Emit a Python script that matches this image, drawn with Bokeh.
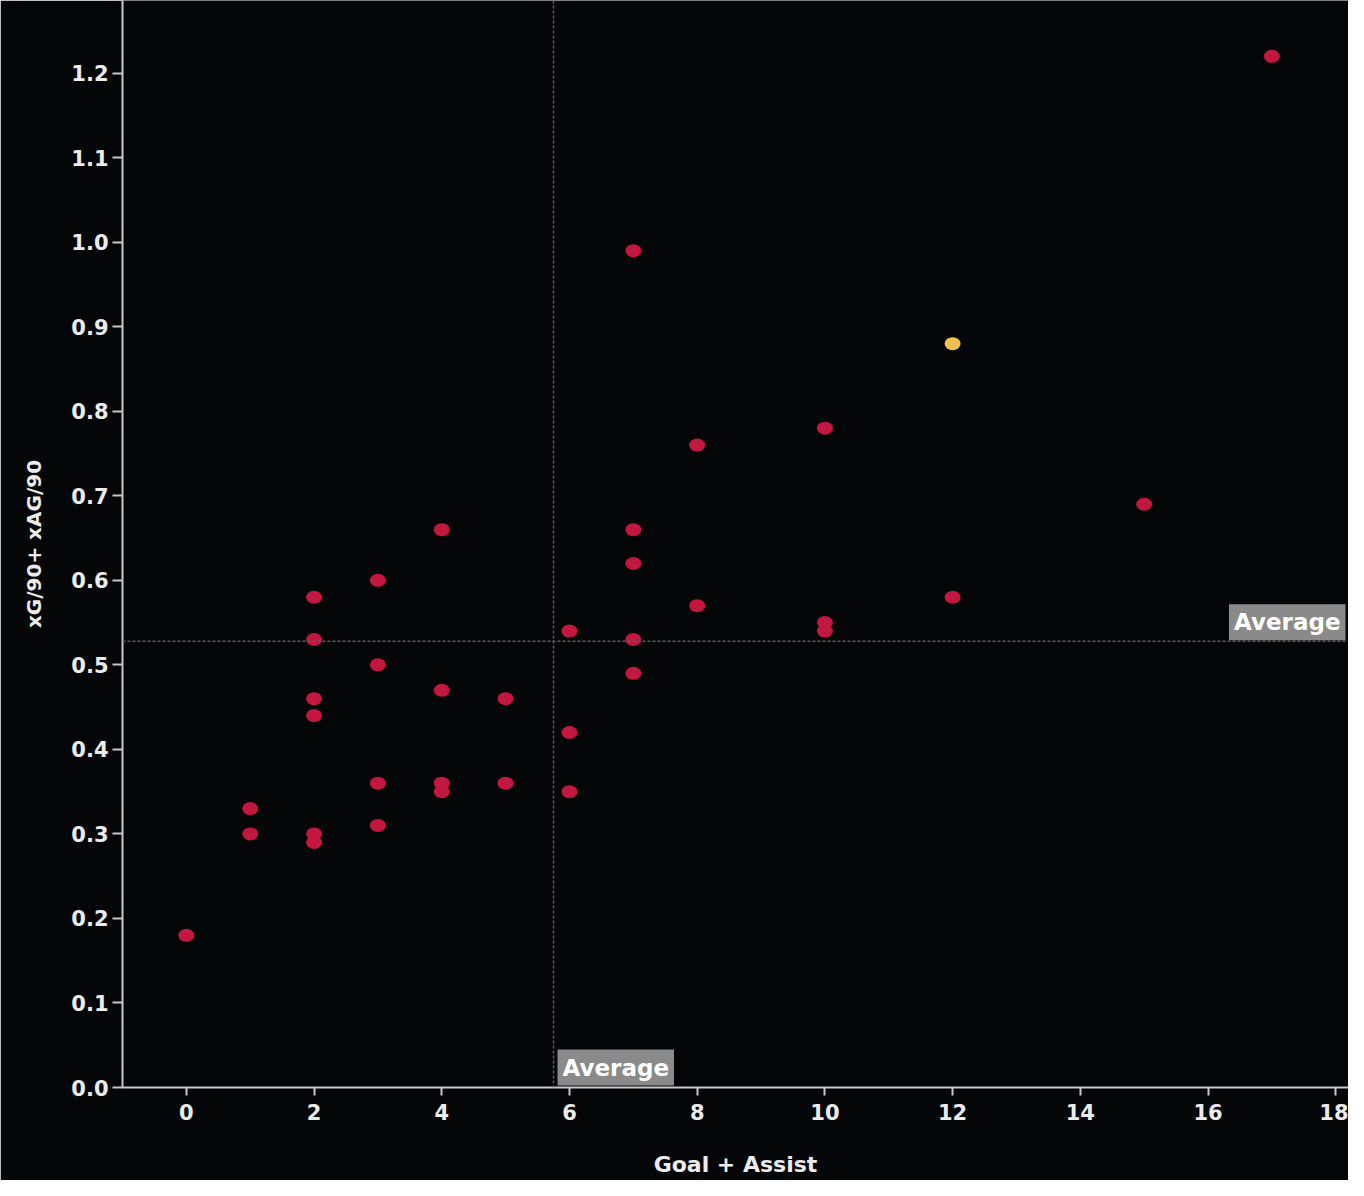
from bokeh.plotting import figure
from bokeh.models import Range1d, FixedTicker, NumeralTickFormatter, Span, Label, ColumnDataSource
from bokeh.embed import file_html
from bokeh.resources import INLINE

# ---- data ----
goal_assist = [0, 1, 1, 2, 2, 2, 2, 2, 2, 3, 3, 3, 3, 4, 4, 4, 4, 5, 5,
               6, 6, 6, 7, 7, 7, 7, 7, 8, 8, 10, 10, 10, 12, 15, 17]
xg_xag_90 = [0.18, 0.33, 0.30, 0.58, 0.53, 0.46, 0.44, 0.30, 0.29,
             0.60, 0.50, 0.36, 0.31, 0.66, 0.47, 0.36, 0.35, 0.46, 0.36,
             0.54, 0.42, 0.35, 0.99, 0.66, 0.62, 0.53, 0.49, 0.76, 0.57,
             0.78, 0.55, 0.54, 0.58, 0.69, 1.22]
highlight_ga = [12]
highlight_xg = [0.88]

x_ticks = [0, 2, 4, 6, 8, 10, 12, 14, 16, 18]
y_ticks = [0.0, 0.1, 0.2, 0.3, 0.4, 0.5, 0.6, 0.7, 0.8, 0.9, 1.0, 1.1, 1.2]

all_x = goal_assist + highlight_ga
all_y = xg_xag_90 + highlight_xg
avg_x = sum(all_x) / len(all_x)
avg_y = sum(all_y) / len(all_y)

BG = "#050608"
AXIS = "#c8c8c8"
TXT = "#ececec"
FONT = "DejaVu Sans"
X_END = 18.2

p = figure(width=1348, height=1180, output_backend="svg", toolbar_location=None,
           x_range=Range1d(-1, X_END), y_range=Range1d(0, 1.286),
           min_border_left=122, min_border_right=0, min_border_top=0, min_border_bottom=93,
           background_fill_color=BG, border_fill_color=BG, outline_line_color=None)
p.grid.visible = False

for ax in (p.xaxis[0], p.yaxis[0]):
    ax.axis_line_color = AXIS
    ax.axis_line_width = 2
    ax.major_tick_line_color = AXIS
    ax.major_tick_line_width = 2
    ax.major_tick_in = 0
    ax.minor_tick_line_color = None
    ax.major_label_text_color = TXT
    ax.major_label_text_font = FONT
    ax.major_label_text_font_style = "bold"
    ax.axis_label_text_color = TXT
    ax.axis_label_text_font = FONT
    ax.axis_label_text_font_style = "bold"

p.xaxis.ticker = FixedTicker(ticks=x_ticks)
p.yaxis.ticker = FixedTicker(ticks=y_ticks)
p.yaxis.formatter = NumeralTickFormatter(format="0.0")
p.xaxis.major_tick_out = 8
p.yaxis.major_tick_out = 10
p.xaxis.major_label_standoff = 8
p.yaxis.major_label_standoff = 4
p.xaxis.major_label_text_font_size = "21px"
p.yaxis.major_label_text_font_size = "21px"
p.xaxis.axis_label = "Goal + Assist"
p.yaxis.axis_label = "xG/90+ xAG/90"
p.xaxis.axis_label_text_font_size = "22px"
p.yaxis.axis_label_text_font_size = "20px"
p.xaxis.axis_label_standoff = 29
p.yaxis.axis_label_standoff = 22

# average lines
p.add_layout(Span(location=avg_x, dimension="height", line_color="#5c5c5c",
                  line_dash="3 2", line_width=1.5))
p.add_layout(Span(location=avg_y, dimension="width", line_color="#5c5c5c",
                  line_dash="3 2", line_width=1.5))

src = ColumnDataSource(dict(x=goal_assist, y=xg_xag_90))
p.ellipse(x="x", y="y", width=16, height=13, width_units="screen", height_units="screen",
          source=src, fill_color="#c4173f", line_color=None)
p.ellipse(x=highlight_ga, y=highlight_xg, width=16, height=13, width_units="screen",
          height_units="screen", fill_color="#f2c14e", line_color=None)

lab_kw = dict(text="Average", text_color="#ffffff", text_font=FONT, text_font_style="bold",
              text_font_size="23px", background_fill_color="#8a8a8a", padding=5)
p.add_layout(Label(x=avg_x, y=0, x_offset=4, y_offset=2, text_align="left",
                   text_baseline="bottom", **lab_kw))
p.add_layout(Label(x=X_END, y=avg_y, x_offset=-3, y_offset=1, text_align="right",
                   text_baseline="bottom", **lab_kw))

open("out.html", "w").write(file_html(p, INLINE))
